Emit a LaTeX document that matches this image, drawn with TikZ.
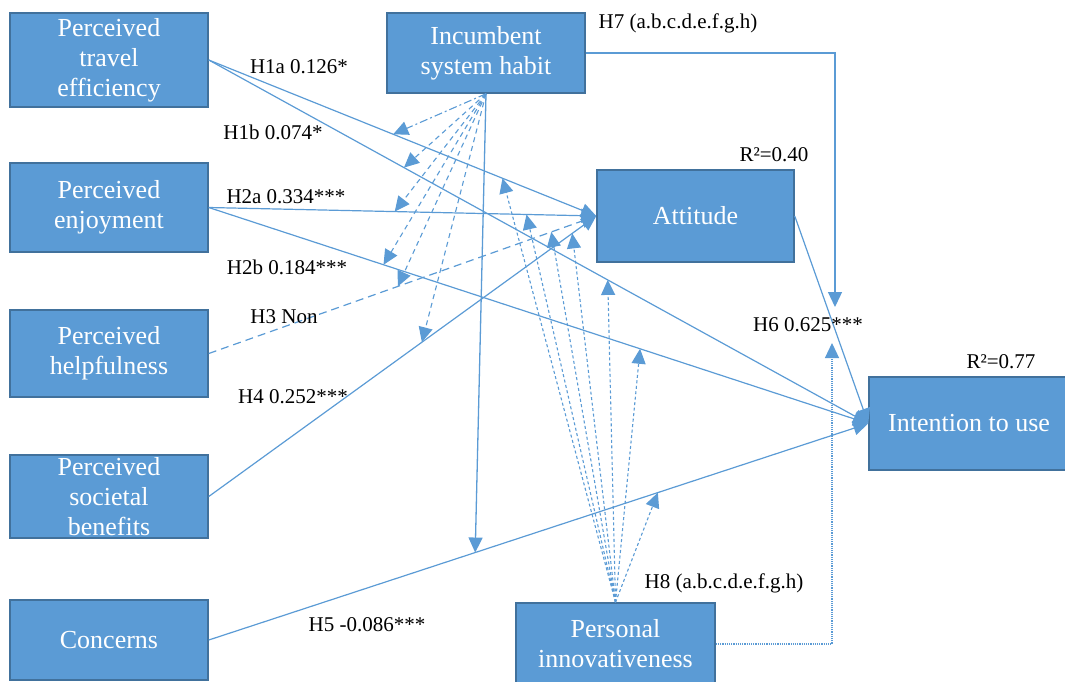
\documentclass[tikz,border=0pt]{standalone}
\usepackage{fontspec}
\setmainfont{Liberation Serif}
\usetikzlibrary{arrows.meta,calc}
\definecolor{boxblue}{HTML}{5B9BD5}
\definecolor{boxedge}{HTML}{41719C}
\definecolor{linkblue}{HTML}{5B9BD5}

\begin{document}
\begin{tikzpicture}[x=1pt,y=-1pt,
  construct/.style={draw=boxedge, fill=boxblue, line width=1.5pt, text=white,
    align=center, inner sep=0pt, font=\fontsize{26}{30}\selectfont},
  lbl/.style={font=\fontsize{21}{24}\selectfont, inner sep=0pt, text=black},
  tip/.style={-{Triangle[length=15pt,width=14pt]}},
  link/.style={draw=linkblue, line width=1.2pt, tip},
  weaklink/.style={link, dash pattern=on 8pt off 5pt},
  habitmod/.style={draw=linkblue, line width=1.1pt, tip, dash pattern=on 5pt off 4pt},
  habitdashdot/.style={draw=linkblue, line width=1.1pt, tip, dash pattern=on 8pt off 3pt on 2pt off 3pt},
  innovmod/.style={draw=linkblue, line width=1.1pt, tip, dash pattern=on 3pt off 2.5pt},
  innovdot/.style={draw=linkblue, line width=1.2pt, tip, densely dotted},
  habitline/.style={draw=linkblue, line width=1.3pt, tip}
]
\useasboundingbox (0,0) rectangle (1065,681);

% constructs
\node[construct, minimum width=198pt, minimum height=94pt] (pte) at (109,60) {Perceived\\travel\\efficiency};
\node[construct, minimum width=198pt, minimum height=89pt] (pe)  at (109,207.5) {Perceived\\enjoyment};
\node[construct, minimum width=198pt, minimum height=87pt] (ph)  at (109,353.5) {Perceived\\helpfulness};
\node[construct, minimum width=198pt, minimum height=83pt] (psb) at (109,496.5) {Perceived\\societal\\benefits};
\node[construct, minimum width=198pt, minimum height=80pt] (con) at (109,640) {Concerns};
\node[construct, minimum width=198pt, minimum height=80pt] (ish) at (486,53) {Incumbent\\system habit};
\node[construct, minimum width=197pt, minimum height=92pt] (att) at (695.5,216) {Attitude};
\node[construct, minimum width=200pt, minimum height=93pt] (int) at (969,423.5) {Intention to use};
\node[construct, minimum width=199pt, minimum height=82pt] (pi)  at (615.5,644) {Personal\\innovativeness};

% points on the structural paths where the moderators act
\coordinate (h1a-i) at ($(pte.east)!0.476!(att.west)$);
\coordinate (h1a-p) at ($(pte.east)!0.758!(att.west)$);
\coordinate (h1b-i) at ($(pte.east)!0.296!(int.west)$);
\coordinate (h1b-p) at ($(pte.east)!0.605!(int.west)$);
\coordinate (h2a-i) at ($(pe.east)!0.48!(att.west)$);
\coordinate (h2a-p) at ($(pe.east)!0.82!(att.west)$);
\coordinate (h2b-i) at ($(pe.east)!0.265!(int.west)$);
\coordinate (h2b-p) at ($(pe.east)!0.654!(int.west)$);
\coordinate (h3-i)  at ($(ph.east)!0.488!(att.west)$);
\coordinate (h3-p)  at ($(ph.east)!0.884!(att.west)$);
\coordinate (h4-i)  at ($(psb.east)!0.55!(att.west)$);
\coordinate (h4-p)  at ($(psb.east)!0.938!(att.west)$);
\coordinate (h5-i)  at ($(con.east)!0.404!(int.west)$);
\coordinate (h5-p)  at ($(con.east)!0.681!(int.west)$);
\coordinate (h6-i)  at (835,307);
\coordinate (h6-p)  at (832,343);

% structural paths
\draw[link] (pte.east) -- (att.west);
\draw[link] (pte.east) -- (int.west);
\draw[link] (pe.east) -- (att.west);
\draw[link] (pe.east) -- (int.west);
\draw[weaklink] (ph.east) -- (att.west);
\draw[link] (psb.east) -- (att.west);
\draw[link] (con.east) -- (int.west);
\draw[link] (att.east) -- (int.west);

% incumbent system habit as moderator
\draw[habitdashdot] (ish.south) -- (h1a-i);
\draw[habitmod] (ish.south) -- (h1b-i);
\draw[habitmod] (ish.south) -- (h2a-i);
\draw[habitmod] (ish.south) -- (h2b-i);
\draw[habitmod] (ish.south) -- (h3-i);
\draw[habitmod] (ish.south) -- (h4-i);
\draw[habitline] (ish.south) -- (h5-i);
\draw[habitline] (ish.east) -| (h6-i);

% personal innovativeness as moderator
\draw[innovmod] (pi.north) -- (h1a-p);
\draw[innovmod] (pi.north) -- (h1b-p);
\draw[innovmod] (pi.north) -- (h2a-p);
\draw[innovmod] (pi.north) -- (h2b-p);
\draw[innovmod] (pi.north) -- (h3-p);
\draw[innovmod] (pi.north) -- (h4-p);
\draw[innovmod] (pi.north) -- (h5-p);
\draw[innovdot] (pi.east) -| (h6-p);

% path labels
\node[lbl] (l1a) at (299,67) {H1a 0.126*};
\node[lbl] (l1b) at (273,132) {H1b 0.074*};
\node[lbl] (l2a) at (286,197) {H2a 0.334***};
\node[lbl] (l2b) at (287,267) {H2b 0.184***};
\node[lbl] (l3)  at (284,317) {H3 Non};
\node[lbl] (l4)  at (293,397) {H4 0.252***};
\node[lbl] (l5)  at (367,625) {H5 -0.086***};
\node[lbl] (l6)  at (808,325) {H6 0.625***};
\node[lbl] (l7)  at (678,23) {H7 (a.b.c.d.e.f.g.h)};
\node[lbl] (l8)  at (724,583) {H8 (a.b.c.d.e.f.g.h)};
\node[lbl] (r1)  at (774,155) {R²=0.40};
\node[lbl] (r2)  at (1001,362) {R²=0.77};
\end{tikzpicture}
\end{document}
